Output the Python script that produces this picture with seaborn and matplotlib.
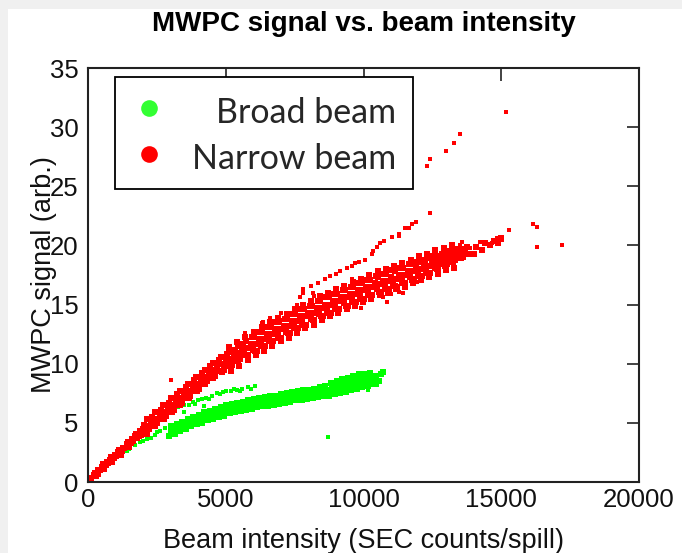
import matplotlib
matplotlib.use("Agg")
import matplotlib.pyplot as plt
import pandas as pd
import seaborn as sns
from matplotlib.lines import Line2D
from matplotlib.patches import Rectangle

# ---------------- data ----------------
series_names = ["Broad beam", "Narrow beam"]
series_colors = ["#00ff00", "#ff0000"]
legend_colors = ["#33ff33", "#ff0000"]
x_ticks = [0, 5000, 10000, 15000, 20000]
y_ticks = [0, 5, 10, 15, 20, 25, 30, 35]

# Broad beam (green): dense main band
broad_band_x = [
    2950, 3000, 3050, 3020, 3150, 3200, 3250, 3220, 3350, 3400, 3450, 3420, 3550, 3600, 3650, 3620,
    3750, 3800, 3850, 3820, 3950, 4000, 4050, 4020, 4150, 4200, 4250, 4220, 4350, 4400, 4450, 4420,
    4550, 4600, 4650, 4620, 4750, 4800, 4850, 4820, 4950, 5000, 5050, 5020, 5150, 5200, 5250, 5220,
    5350, 5400, 5450, 5420, 5550, 5600, 5650, 5620, 5750, 5800, 5850, 5820, 5950, 6000, 6050, 6020,
    6150, 6200, 6250, 6220, 6350, 6400, 6450, 6420, 6550, 6600, 6650, 6620, 6750, 6800, 6850, 6820,
    6950, 7000, 7050, 7020, 7150, 7200, 7250, 7220, 7350, 7400, 7450, 7420, 7550, 7600, 7650, 7620,
    7750, 7800, 7850, 7820, 7950, 8000, 8050, 8020, 8150, 8200, 8250, 8220, 8350, 8400, 8450, 8420,
    8550, 8600, 8650, 8620, 8750, 8800, 8850, 8820, 8950, 9000, 9050, 9020, 9150, 9200, 9250, 9220,
    9350, 9400, 9450, 9420, 9550, 9600, 9650, 9620, 9750, 9800, 9850, 9820, 9950, 10000, 10050, 10020,
    10150, 10200, 10250, 10220, 10350, 10400, 10450, 10550, 10650, 10700,
]
broad_band_y = [
    3.9, 4.2, 4.4, 4.7, 4.1, 4.4, 4.6, 4.9, 4.3, 4.6, 4.8, 5.1, 4.5, 4.8, 5.0, 5.3,
    4.7, 5.0, 5.2, 5.5, 4.9, 5.2, 5.4, 5.7, 5.0, 5.3, 5.6, 5.9, 5.2, 5.5, 5.7, 6.0,
    5.3, 5.6, 5.9, 6.2, 5.5, 5.8, 6.0, 6.3, 5.6, 5.9, 6.2, 6.5, 5.8, 6.1, 6.3, 6.6,
    5.9, 6.2, 6.4, 6.7, 6.0, 6.3, 6.5, 6.8, 6.1, 6.4, 6.6, 6.9, 6.2, 6.5, 6.7, 7.0,
    6.3, 6.6, 6.8, 7.1, 6.4, 6.7, 6.9, 7.2, 6.4, 6.7, 7.0, 7.3, 6.5, 6.8, 7.0, 7.3,
    6.6, 6.9, 7.1, 7.4, 6.7, 7.0, 7.2, 7.5, 6.8, 7.1, 7.3, 7.6, 6.9, 7.2, 7.4, 7.7,
    6.9, 7.2, 7.5, 7.8, 7.0, 7.3, 7.5, 7.8, 7.1, 7.4, 7.6, 7.9, 7.2, 7.5, 7.7, 8.0,
    7.3, 7.6, 7.8, 8.1, 7.3, 7.7, 8.0, 8.4, 7.4, 7.8, 8.1, 8.5, 7.5, 7.9, 8.2, 8.7,
    7.6, 8.0, 8.4, 8.8, 7.8, 8.2, 8.5, 9.0, 7.9, 8.3, 8.6, 9.1, 8.0, 8.4, 8.7, 9.1,
    8.1, 8.5, 8.8, 9.2, 8.3, 8.7, 9.0, 8.5, 9.1, 9.3,
]
# Broad beam (green): sparse points (low diagonal, upper branch, outliers)
broad_sparse_x = [
    250, 350, 550, 700, 980, 1100, 1230, 1400, 1500, 1700, 1900, 2000, 2180, 2300, 2430, 2600, 2800, 2150, 2500,
    3270, 3500, 3650, 3800, 3900, 4000, 4150, 4300, 4400, 4500, 4700, 4800, 4900, 5000, 5200, 5300, 5400, 5500,
    5600, 5800, 5900, 6050, 3500, 4200,
    10170, 10490, 8710,
]
broad_sparse_y = [
    0.85, 0.9, 1.3, 1.5, 2.0, 2.2, 2.5, 2.6, 2.8, 3.1, 3.4, 3.5, 3.8, 3.7, 4.0, 4.3, 4.6, 3.6, 4.2,
    6.3, 6.5, 6.5, 6.8, 6.6, 6.9, 7.0, 7.1, 7.0, 7.3, 7.5, 7.4, 7.6, 7.7, 7.7, 7.9, 7.8, 7.7,
    7.9, 8.0, 7.9, 8.1, 5.9, 6.4,
    7.8, 8.2, 3.8,
]

# Narrow beam (red): dense main band
narrow_band_x = [
    120, 200, 280, 240, 420, 500, 580, 540, 720, 800, 880, 840, 1020, 1100, 1180, 1140,
    1320, 1400, 1480, 1440, 1620, 1700, 1780, 1740, 1920, 2000, 2080, 2040, 2220, 2300, 2380, 2340,
    2520, 2600, 2680, 2640, 2820, 2900, 2980, 2940, 3120, 3200, 3280, 3240, 3420, 3500, 3580, 3540,
    3720, 3800, 3880, 3840, 4020, 4100, 4180, 4140, 4320, 4400, 4480, 4440, 4620, 4700, 4780, 4740,
    4920, 5000, 5080, 5040, 5220, 5300, 5380, 5340, 5520, 5600, 5680, 5640, 5820, 5900, 5980, 5940,
    6120, 6200, 6280, 6240, 6420, 6500, 6580, 6540, 6720, 6800, 6880, 6840, 7020, 7100, 7180, 7140,
    7320, 7400, 7480, 7440, 7620, 7700, 7780, 7740, 7920, 8000, 8080, 8040, 8220, 8300, 8380, 8340,
    8520, 8600, 8680, 8640, 8820, 8900, 8980, 8940, 9120, 9200, 9280, 9240, 9420, 9500, 9580, 9540,
    9720, 9800, 9880, 9840, 10020, 10100, 10180, 10140, 10320, 10400, 10480, 10440, 10620, 10700, 10780, 10740,
    10920, 11000, 11080, 11040, 11220, 11300, 11380, 11340, 11520, 11600, 11680, 11640, 11820, 11900, 11980, 11940,
    12120, 12200, 12280, 12240, 12420, 12500, 12580, 12540, 12720, 12800, 12880, 12840, 13020, 13100, 13180, 13140,
    13320, 13400, 13480, 13440, 13620, 13700, 13780, 13740, 14000, 14100, 14300, 14400, 14600, 14750, 14900, 15000,
    350, 380, 650, 680, 950, 980, 1250, 1280, 1550, 1580, 1850, 1880,
    2150, 2170, 2130, 2450, 2470, 2430, 2750, 2770, 2730, 3050, 3070, 3030, 3350, 3370, 3330,
    3650, 3670, 3630, 3950, 3970, 3930, 4250, 4270, 4230, 4550, 4570, 4530, 4850, 4870, 4830,
    5150, 5170, 5130, 5450, 5470, 5430, 5750, 5770, 5730, 6050, 6070, 6030, 6350, 6370, 6330,
    6650, 6670, 6630, 6950, 6970, 6930, 7250, 7270, 7230, 7550, 7570, 7530, 7850, 7870, 7830,
    8150, 8170, 8130, 8450, 8470, 8430, 8750, 8770, 8730, 9050, 9070, 9030, 9350, 9370, 9330,
    9650, 9670, 9630, 9950, 9970, 9930, 10250, 10270, 10230, 10550, 10570, 10530, 10850, 10870, 10830,
    11150, 11170, 11130, 11450, 11470, 11430, 11750, 11770, 11730, 12050, 12070, 12030, 12350, 12370, 12330,
    12650, 12670, 12630, 12950, 12970, 12930, 13250, 13270, 13230, 13550, 13570, 13530,
    5190, 5110, 5490, 5410, 5790, 5710, 6090, 6010, 6390, 6310, 6690, 6610, 6990, 6910,
    7290, 7210, 7590, 7510, 7890, 7810, 8190, 8110, 8490, 8410, 8790, 8710, 9090, 9010,
    9390, 9310, 9690, 9610, 9990, 9910, 10290, 10210, 10590, 10510, 10890, 10810, 11190, 11110,
    11490, 11410, 11790, 11710, 12090, 12010, 12390, 12310, 12690, 12610, 12990, 12910, 13290, 13210,
]
narrow_band_y = [
    0.3, 0.6, 0.5, 0.8, 1.0, 1.3, 1.1, 1.5, 1.6, 1.9, 1.7, 2.1, 2.2, 2.5, 2.3, 2.7,
    2.9, 3.2, 3.0, 3.4, 3.5, 3.9, 3.7, 4.1, 4.0, 4.5, 4.2, 4.8, 4.5, 5.2, 4.8, 5.5,
    5.0, 5.8, 5.3, 6.1, 5.6, 6.4, 5.9, 6.7, 6.1, 7.0, 6.5, 7.4, 6.7, 7.6, 7.1, 8.0,
    7.3, 8.2, 7.7, 8.6, 7.9, 8.8, 8.3, 9.2, 8.5, 9.4, 8.9, 9.8, 9.0, 9.9, 9.4, 10.3,
    9.5, 10.4, 9.9, 10.8, 9.9, 10.8, 10.3, 11.2, 10.4, 11.3, 10.8, 11.7, 10.7, 11.7, 11.2, 12.3,
    11.1, 12.1, 11.6, 12.7, 11.5, 12.5, 12.0, 13.1, 11.9, 12.9, 12.4, 13.5, 12.2, 13.2, 12.7, 13.8,
    12.6, 13.6, 13.1, 14.2, 13.0, 14.0, 13.5, 14.6, 13.3, 14.3, 13.8, 14.9, 13.7, 14.7, 14.2, 15.3,
    14.0, 15.0, 14.5, 15.6, 14.3, 15.3, 14.8, 15.9, 14.6, 15.6, 15.1, 16.2, 14.9, 15.9, 15.4, 16.5,
    15.2, 16.2, 15.7, 16.8, 15.5, 16.5, 16.0, 17.1, 15.8, 16.8, 16.3, 17.4, 16.0, 17.0, 16.5, 17.6,
    16.3, 17.3, 16.8, 17.9, 16.5, 17.5, 17.0, 18.1, 16.8, 17.8, 17.3, 18.4, 17.2, 18.1, 17.6, 18.6,
    17.4, 18.3, 17.8, 18.8, 17.7, 18.6, 18.1, 19.1, 18.1, 18.9, 18.4, 19.3, 18.4, 19.1, 18.7, 19.5,
    18.8, 19.4, 19.0, 19.7, 19.0, 19.6, 19.3, 19.9, 19.3, 19.9, 19.6, 20.2, 20.0, 20.4, 20.2, 20.6,
    0.7, 1.0, 1.4, 1.7, 2.0, 2.3, 2.6, 2.9, 3.3, 3.6, 3.9, 4.3,
    4.1, 4.7, 5.3, 4.7, 5.3, 5.9, 5.3, 5.9, 6.5, 5.9, 6.5, 7.1, 6.5, 7.1, 7.7,
    7.1, 7.7, 8.3, 7.7, 8.3, 8.9, 8.3, 8.9, 9.5, 8.8, 9.5, 10.1, 9.3, 10.0, 10.6,
    9.8, 10.4, 11.0, 10.2, 10.9, 11.5, 10.7, 11.3, 11.9, 11.1, 11.7, 12.3, 11.5, 12.1, 12.7,
    11.9, 12.5, 13.1, 12.2, 12.9, 13.5, 12.6, 13.2, 13.8, 13.0, 13.6, 14.2, 13.3, 14.0, 14.6,
    13.7, 14.3, 14.9, 14.0, 14.7, 15.3, 14.3, 15.0, 15.6, 14.6, 15.3, 15.9, 14.9, 15.6, 16.2,
    15.2, 15.9, 16.5, 15.5, 16.2, 16.8, 15.8, 16.5, 17.1, 16.1, 16.7, 17.3, 16.3, 17.0, 17.6,
    16.6, 17.2, 17.8, 16.8, 17.5, 18.1, 17.1, 17.8, 18.4, 17.4, 18.0, 18.6, 17.7, 18.3, 18.9,
    18.0, 18.6, 19.1, 18.3, 18.8, 19.3, 18.6, 19.1, 19.5, 18.9, 19.3, 19.7,
    9.4, 11.4, 9.8, 11.8, 10.3, 12.3, 10.7, 12.7, 11.1, 13.1, 11.5, 13.5, 11.9, 13.9,
    12.2, 14.2, 12.6, 14.6, 13.0, 15.0, 13.3, 15.3, 13.7, 15.7, 14.0, 16.0, 14.3, 16.3,
    14.6, 16.6, 14.9, 16.9, 15.2, 17.2, 15.5, 17.5, 15.8, 17.8, 16.0, 18.0, 16.3, 18.3,
    16.5, 18.5, 16.8, 18.8, 17.1, 19.1, 17.3, 19.3, 17.6, 19.6, 17.9, 19.8, 18.1, 20.0,
]
# Narrow beam (red): sparse points (upper branch, scattered points, outliers)
narrow_sparse_x = [
    5700, 6300, 7000, 7600, 8700, 9600, 6600, 8200, 9900, 11000, 11300, 10700,
    7800, 8100, 8350, 8600, 8800, 9000, 9150, 9400, 9600, 9850, 10050, 10300, 10350, 10600, 10750,
    11050, 11300, 11650, 11750, 11900, 12400, 11300, 10500, 9700, 11500,
    7804, 7696, 8167, 6352, 6970,
    15030, 14850, 14670, 14230, 13870, 13500, 13580, 13140, 13400, 12850, 15280, 16150, 16300, 16300, 17200,
    10850, 10710, 11940, 11440,
    12310, 12420, 13000, 13290, 13500, 15170,
    3010, 50,
]
narrow_sparse_y = [
    12.6, 13.4, 14.3, 15.0, 16.1, 17.2, 13.9, 15.7, 14.7, 15.9, 16.1, 15.6,
    16.3, 16.6, 16.8, 17.2, 17.4, 17.6, 17.8, 18.1, 18.3, 18.6, 18.8, 19.3, 19.5, 20.2, 20.4,
    20.7, 21.0, 21.5, 21.8, 22.0, 22.7, 20.8, 19.9, 18.5, 21.5,
    16.0, 15.6, 16.0, 13.5, 13.7,
    20.5, 20.6, 20.2, 20.3, 19.8, 20.0, 20.3, 19.4, 18.9, 19.0, 21.3, 21.8, 21.6, 19.9, 20.0,
    15.2, 15.6, 16.9, 16.0,
    26.7, 27.3, 28.0, 28.7, 29.4, 31.3,
    8.6, 0.1,
]

# ---------------- figure ----------------
W, H = 682, 553
sns.set_style("white")
plt.rcParams["font.family"] = ["Liberation Sans", "DejaVu Sans"]

fig = plt.figure(figsize=(W / 100, H / 100), dpi=100, facecolor="#f0f0f0")
fig.patches.append(Rectangle((8 / W, 0), 1, (H - 9) / H, transform=fig.transFigure,
                             facecolor="white", edgecolor="none", zorder=-10))
ax = fig.add_axes([88 / W, 71 / H, 551 / W, 414 / H])
ax.set_zorder(5)
ax.set_facecolor("white")

groups = [
    (broad_band_x, broad_band_y, series_colors[0], 17),
    (broad_sparse_x, broad_sparse_y, series_colors[0], 7),
    (narrow_band_x, narrow_band_y, series_colors[1], 17),
    (narrow_sparse_x, narrow_sparse_y, series_colors[1], 7),
]
for gx, gy, col, size in groups:
    sns.scatterplot(x=gx, y=gy, color=col, marker="s", s=size, linewidth=0, ax=ax, legend=False)

ax.set_xlim(0, 20000)
ax.set_ylim(0, 35)
ax.set_xticks(x_ticks)
ax.set_yticks(y_ticks)
ax.set_xticklabels([str(t) for t in x_ticks])
ax.set_yticklabels([str(t) for t in y_ticks])
ax.tick_params(direction="in", length=9, width=1.2, color="#222222",
               top=True, right=True, labelsize=18.5, labelcolor="#111111")
ax.tick_params(axis="x", pad=4)
ax.tick_params(axis="y", pad=7)
for sp in ax.spines.values():
    sp.set_visible(True)
    sp.set_color("#222222")
    sp.set_linewidth(1.5)

ax.set_xlabel("Beam intensity (SEC counts/spill)", fontsize=19.5, color="#111111")
ax.set_ylabel("MWPC signal (arb.)", fontsize=19.5, color="#111111")
ax.xaxis.set_label_coords(0.5, -0.111)
ax.yaxis.set_label_coords(-0.057, 0.5)

fig.text(363.5 / W, 1 - 24 / H, "MWPC signal vs. beam intensity", ha="center", va="center",
         fontsize=20, fontweight="bold", color="black")

handles = [Line2D([], [], ls="", marker="o", markersize=12, color=c, markeredgewidth=0)
           for c in legend_colors]
leg = ax.legend(handles, series_names, loc="upper left", bbox_to_anchor=(0.049, 0.978),
                borderaxespad=0, frameon=True, fancybox=False, framealpha=1,
                edgecolor="black", prop={"family": ["Lato", "DejaVu Sans"], "size": 24.5},
                handlelength=1.0, handletextpad=0.75, borderpad=0.5, labelspacing=0.41)
leg.get_frame().set_linewidth(1.3)
leg.set_zorder(10)
fig.canvas.draw()
renderer = fig.canvas.get_renderer()
widths = [t.get_window_extent(renderer).width for t in leg.get_texts()]
maxw = max(widths)
for t, w in zip(leg.get_texts(), widths):
    t.set_position((maxw - w, -3))

fig.savefig("out.png", dpi=100, facecolor=fig.get_facecolor())
